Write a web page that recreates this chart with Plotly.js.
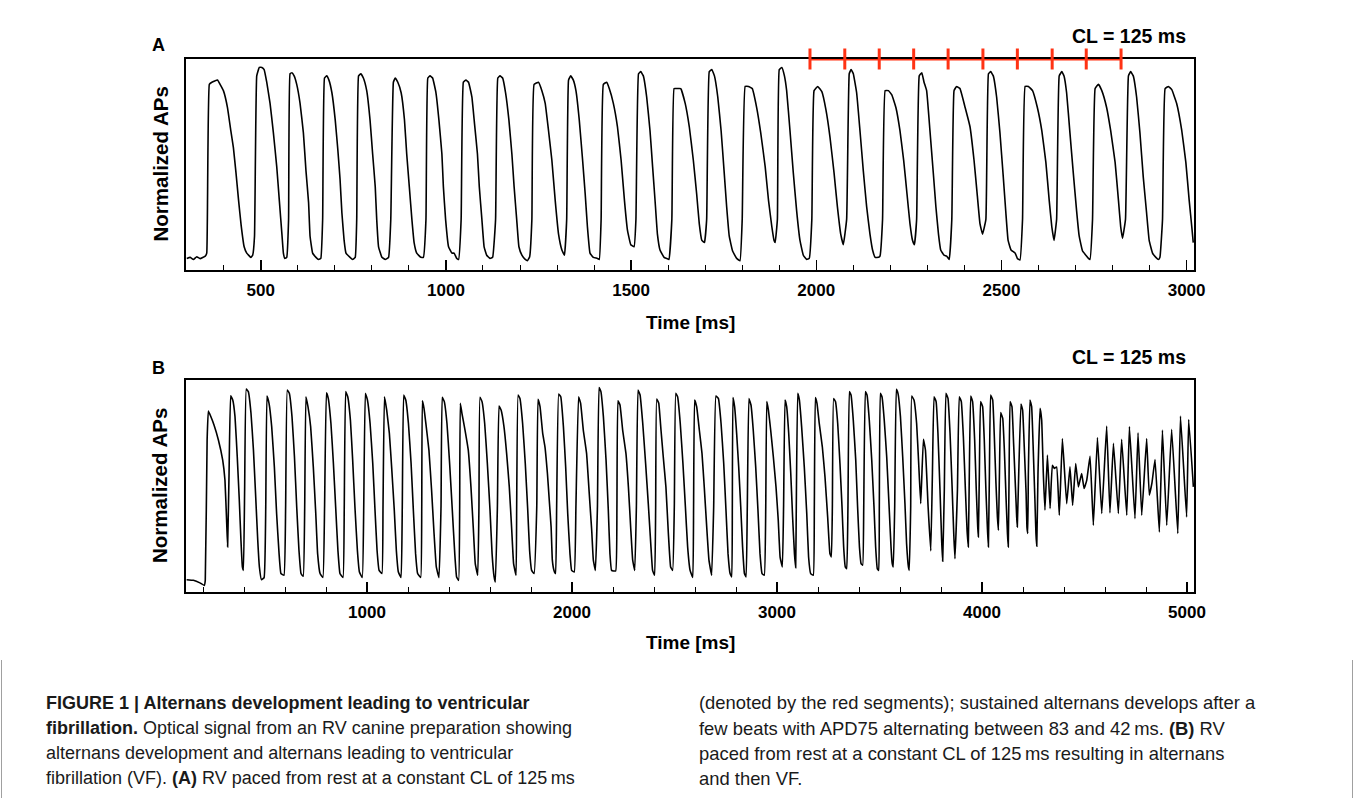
<!DOCTYPE html>
<html>
<head>
<meta charset="utf-8">
<script src="https://cdn.plot.ly/plotly-3.0.1.min.js"></script>
<style>
html,body{margin:0;padding:0;background:#fff;}
#chart{width:1354px;height:798px;}
</style>
</head>
<body>
<div id="chart"></div>
<script>
// ---------- DATA ----------
// Panel A: time [ms], normalized AP [% of trace box height]
const apA = [
[300,5.5],[309,6],[318,5],[327,6.3],[336,5.4],[350,6.6],
[354,8],[361,88],[368,89],[383,90],[390,88],[399,85],[410,77],[419,66],[426,58],[433,46],[440,33],[447,21],[455,11],[462,8],[473,6],[478,7],
[483,16],[489,92],[496,96],[503,96],[509,95],[516,89],[525,79],[534,65],[543,49],[550,33],[557,17],[561,8],[565,5.5],[570,6],
[575,24],[579,93],[584,93.5],[590,92],[597,88],[606,79],[615,65],[622,47],[629,32],[633,16],[640,8],[649,6],[656,5],[662,5.5],
[667,24],[672,91],[678,92],[684,90],[692,84],[701,71],[708,57],[714,43],[719,27],[725,14],[730,8],[741,6],[748,5],[755,6],
[759,24],[764,92],[770,93],[777,91],[786,85],[795,71],[802,55],[809,39.5],[813,24],[818,11],[827,6],[836,5],[845,6],
[851,24],[858,89],[863,91],[870,89],[879,84],[888,71],[894,55],[901,39.5],[908,24],[914,13],[921,8],[932,6],[939,6],
[946,24],[951,91],[957,92],[964,91],[973,84],[981,71],[989,55],[993,39.5],[999,24],[1007,11],[1016,8],[1022,8],[1029,5.5],[1034,5],
[1041,24],[1047,89],[1054,90],[1061,89],[1070,82],[1077,69.5],[1085,55],[1090,39.5],[1097,24],[1103,11],[1110,7],[1119,5.5],[1126,6],
[1134,24],[1140,91],[1146,92],[1153,91],[1161,84],[1170,71],[1178,55],[1184,39.5],[1191,24],[1197,11],[1205,7],[1214,5],[1220,4.4],[1226,6.3],
[1232,24],[1238,88],[1250,89],[1259,85],[1268,79],[1277,66],[1286,52],[1295,33],[1304,17],[1313,9.5],[1320,7],
[1326,24],[1331,90],[1337,92],[1344,90],[1351,85],[1360,71],[1369,52],[1376,36],[1382,20.5],[1389,8],[1398,6],[1409,5.5],[1414,5],
[1419,24],[1425,88],[1434,89],[1441,86],[1452,79],[1463,68],[1473,52],[1482,33],[1490,19],[1499,12],[1508,11],
[1513,24],[1520,93],[1526,94],[1533,92],[1542,82],[1551,66],[1558,49],[1565,32],[1571,17],[1578,9.5],[1589,6],[1596,5.5],[1602,5],
[1610,24],[1616,86],[1623,86],[1634,86],[1646,79],[1657,68],[1668,52],[1677,36],[1684,22],[1691,14],[1698,13],
[1704,24],[1711,94],[1718,95],[1725,92],[1734,82],[1743,66],[1751,47],[1758,30],[1765,16],[1774,9],[1785,5.5],[1794,4.4],
[1800,24],[1808,87],[1817,87],[1827,86],[1839,77],[1850,65],[1862,49],[1871,33],[1880,20.5],[1886,14],[1889,13],
[1895,24],[1900,95],[1907,96],[1914,92],[1920,85],[1929,66],[1938,46],[1947,28],[1956,14],[1965,7],[1974,5],[1981,5.5],
[1988,24],[1994,85],[2004,87],[2015,84.5],[2026,76],[2037,63],[2048,46],[2057,30],[2066,17],[2073,12],
[2082,24],[2089,93],[2094,95],[2100,93],[2109,84],[2118,66],[2127,47],[2136,30],[2145,17],[2152,9.5],[2159,6],[2168,6],[2172,6.6],
[2179,24],[2186,85],[2195,85],[2204,83],[2215,77],[2226,66],[2236,52],[2245,36],[2253,22],[2260,14],[2265,12],
[2271,24],[2278,92],[2285,93.5],[2291,89],[2298,85],[2307,66],[2316,46],[2323,30],[2330,17],[2336,9.5],[2345,7],[2352,6.6],[2359,5],
[2366,24],[2372,85],[2379,87],[2388,86],[2402,77],[2415,68],[2426,52],[2435,35],[2442,22],[2449,17],
[2458,24],[2465,93],[2471,94],[2478,92],[2487,82],[2496,65],[2505,44],[2512,27],[2518,14],[2526,9.5],[2537,8],[2543,5.5],[2550,4.7],
[2557,24],[2564,87],[2573,87],[2584,85],[2597,77],[2609,66],[2620,51],[2629,33],[2636,20.5],[2642,14],
[2649,24],[2656,92],[2663,94],[2669,92],[2676,84],[2685,65],[2694,46],[2703,28],[2710,16],[2719,9],[2728,7],[2735,5.5],[2739,5],
[2746,24],[2753,86],[2762,88],[2771,85],[2784,77],[2795,66],[2807,51],[2816,33],[2822,20.5],[2827,15],
[2835,24],[2843,92],[2849,94],[2856,92],[2865,82],[2874,65],[2883,44],[2892,27],[2899,14],[2908,8],[2917,6],[2924,5],[2928,6],
[2935,24],[2942,86],[2951,87],[2960,85.5],[2973,79],[2987,66],[2998,51],[3007,33],[3014,20.5],[3018,13]
];

// Panel B: time [ms], normalized AP [% of trace box height]
const apB = [
[120,5.8],[153,5.5],[185,4.3],[206,3.1],
[211,5.5],[220,71.7],[226,85.4],[237,83],[254,78.7],[275,71.7],[296,62.2],[307,52.8],[315,33.9],[320,21.3],
[327,55.9],[335,92.6],[345,90.6],[356,82.7],[367,63.8],[377,43.3],[385,24.4],[392,11.8],[397,10.2],
[403,48],[411,95.7],[421,94.5],[434,84.3],[446,66.9],[457,44.9],[467,24.4],[475,11.8],[485,5.8],[498,6.8],
[506,40.2],[512,92.4],[522,89],[535,78],[548,59],[559,37],[571,18.1],[580,8.7],[595,7.9],
[603,40.2],[611,95.3],[621,93.7],[634,82.7],[646,63.8],[657,40.2],[668,19.7],[678,8.7],[689,7.4],
[696,40.2],[702,92.1],[712,87.4],[725,78],[738,59],[750,37],[759,18.1],[771,8.7],[785,6.8],
[793,40.2],[802,94],[811,91.3],[824,79.5],[836,60.6],[847,40.2],[858,19.7],[868,8.7],[883,6.8],
[889,40.2],[896,94.5],[906,92.1],[919,81.1],[930,62.2],[941,40.2],[953,19.7],[963,9.4],[977,6.8],
[984,40.2],[992,93.7],[1002,90.6],[1015,79.5],[1028,60.6],[1039,38.6],[1049,19.7],[1059,10.2],[1073,8.7],
[1078,40.2],[1085,92.1],[1096,85.8],[1109,74.8],[1120,59],[1133,38.6],[1143,19.7],[1153,9.4],[1166,6.8],
[1172,40.2],[1179,92.9],[1189,90.6],[1202,79.5],[1215,60.6],[1226,38.6],[1237,18.1],[1247,8.7],[1262,6.8],
[1267,40.2],[1270,90.2],[1278,86.6],[1288,78.7],[1302,66.9],[1315,48],[1327,27.6],[1338,11.8],[1351,6.8],
[1361,40.2],[1367,91.8],[1377,89.8],[1390,79.5],[1403,60.6],[1416,38.6],[1428,18.1],[1437,7.1],[1447,5.5],
[1452,40.2],[1455,89],[1463,84.3],[1478,76.4],[1494,66.9],[1507,49.6],[1519,29.1],[1528,13.4],[1540,7.9],
[1546,40.2],[1551,91.8],[1561,89.8],[1574,79.5],[1587,60.6],[1600,38.6],[1610,18.1],[1620,7.1],[1626,4.7],
[1636,40.2],[1644,87.7],[1654,85.8],[1668,78],[1681,65.4],[1694,49.6],[1706,29.1],[1715,13.4],[1727,7.9],
[1730,40.2],[1737,92.9],[1746,91.3],[1759,79.5],[1772,60.6],[1784,38.6],[1793,19.7],[1803,10.2],[1815,8.7],
[1828,40.2],[1834,90.9],[1844,87.4],[1857,74.8],[1868,68.5],[1880,55.9],[1889,43.3],[1898,30.7],[1904,15],[1912,10.2],[1920,8.7],
[1925,40.2],[1935,93.4],[1945,92.1],[1958,78],[1969,59],[1979,37],[1990,18.1],[1998,10.2],[2011,9.4],
[2019,40.2],[2032,92.1],[2042,89],[2055,76.4],[2071,65.4],[2084,46.5],[2096,29.1],[2104,15],[2114,10.2],
[2124,40.2],[2132,96.4],[2141,94.5],[2153,82.7],[2166,62.2],[2177,38.6],[2185,18.1],[2193,10.2],[2213,9.9],
[2219,40.2],[2224,90.2],[2234,88.2],[2247,76.4],[2263,65.4],[2275,49.6],[2286,30.7],[2296,15],[2306,10.2],
[2314,40.2],[2322,95.3],[2332,92.9],[2345,79.5],[2359,60.6],[2372,41.7],[2385,21.3],[2393,10.2],[2403,7.9],
[2408,40.2],[2413,91],[2423,89],[2434,76.4],[2445,63.8],[2458,49.6],[2470,27.6],[2481,11.8],[2491,10.2],
[2499,40.2],[2506,93.7],[2515,92.1],[2528,79.5],[2541,60.6],[2553,40.2],[2564,21.3],[2576,10.2],[2589,6.8],
[2593,40.2],[2598,90.6],[2608,87.4],[2621,76.4],[2634,65.4],[2645,49.6],[2657,30.7],[2668,15],[2681,7.9],
[2691,40.2],[2702,92.4],[2714,91.3],[2727,79.5],[2740,60.6],[2751,38.6],[2761,18.1],[2771,8.7],[2779,7.1],
[2782,40.2],[2785,91.7],[2793,87.4],[2803,74.8],[2813,59],[2823,40.2],[2832,21.3],[2841,8.7],[2849,7.1],
[2855,40.2],[2863,91.3],[2873,88.2],[2884,76.4],[2896,59],[2907,38.6],[2917,18.1],[2927,8.7],[2938,7.9],
[2945,40.2],[2950,89.8],[2958,85.8],[2969,76.4],[2982,63.8],[2995,49.6],[3006,33.9],[3015,16.5],[3026,11.8],
[3032,40.2],[3039,90.6],[3047,87.4],[3057,74.8],[3067,55.9],[3076,35.4],[3085,18.1],[3091,11.5],
[3094,40.2],[3101,93.7],[3109,90.6],[3120,78],[3133,59],[3145,37],[3154,16.5],[3164,8.7],[3177,7.9],
[3182,40.2],[3187,91.7],[3195,89],[3206,79.5],[3221,68.5],[3234,54.3],[3247,35.4],[3258,18.1],[3265,16.5],
[3270,40.2],[3276,91.3],[3285,89.8],[3296,79.5],[3307,60.6],[3317,40.2],[3325,21.3],[3333,11.8],[3340,11],
[3346,40.2],[3353,94.5],[3361,92.9],[3372,81.1],[3384,62.2],[3393,40.2],[3402,21.3],[3410,13.4],[3418,12.6],
[3423,40.2],[3431,94.5],[3439,92.9],[3450,81.1],[3462,62.2],[3473,40.2],[3481,21.3],[3489,11],[3496,10.2],
[3499,40.2],[3504,93.7],[3512,92.1],[3523,81.1],[3535,63.8],[3546,41.7],[3556,21.3],[3562,13.4],[3567,11.8],
[3574,40.2],[3582,95.6],[3590,93.7],[3602,82.7],[3613,63.8],[3624,41.7],[3632,22.8],[3641,11.8],[3645,10.2],
[3652,40.2],[3657,92.4],[3668,90.6],[3681,79.5],[3691,60.6],[3701,41.7],
[3714,72],[3724,66.9],[3737,40.2],[3750,19.4],
[3758,55.9],[3766,92.1],[3776,89.8],[3785,74.8],[3795,48],[3803,24.4],[3808,14.5],
[3816,48],[3824,93.7],[3834,91.3],[3844,74.8],[3854,49.6],[3862,27.6],[3868,15.7],
[3880,48],[3889,92.1],[3899,89.8],[3909,73.2],[3919,48],[3927,29.1],[3933,21.3],
[3938,55.9],[3945,92.4],[3954,89.8],[3964,71.7],[3972,48],[3979,30.7],[3982,26],
[3987,55.9],[3993,89.8],[4003,87.4],[4011,71.7],[4019,48],[4026,30.7],[4031,21.3],
[4036,55.9],[4042,92.9],[4052,90.6],[4060,73.2],[4068,51.2],[4075,35.4],[4080,29.1],
[4085,55.9],[4091,84.6],[4101,81.9],[4109,66.9],[4117,44.9],[4124,27.6],[4128,21.3],
[4132,55.9],[4137,89.8],[4146,87.4],[4154,70.1],[4163,49.6],[4169,35.4],[4172,30.7],
[4179,55.9],[4190,88.7],[4198,85.8],[4206,68.5],[4215,46.5],[4219,30.7],[4223,27.6],
[4226,55.9],[4234,90.6],[4242,87.4],[4250,66.9],[4258,43.3],[4263,27.6],[4267,21.6],
[4273,55.9],[4283,86.6],[4291,81.1],[4299,55.9],[4307,38.6],
[4319,64.6],[4332,39.4],[4343,59.8],[4353,58.3],[4364,59],[4377,36.2],[4392,72.4],[4413,41.7],[4429,59],[4442,40.9],
[4457,60.6],[4470,49.6],[4486,55.9],[4498,48.8],[4511,52.8],[4527,64.1],[4543,31.5],[4563,72.9],[4584,37],[4608,78.3],
[4624,37.3],[4641,70.1],[4665,37],[4681,72],[4706,36.2],[4719,78],[4746,34.6],[4761,75.1],[4779,36.2],[4803,72.4],
[4816,45.7],[4829,51.5],[4844,62.5],[4865,28.3],[4880,76.4],[4901,31.5],[4925,76.7],[4955,27.6],[4968,83],[4998,35.4],
[5008,81.4],[5031,49.6]
];

// red segment boundaries in panel A [ms]
const redTicks = [1983, 2077, 2170, 2263, 2356, 2450, 2543, 2637, 2729, 2823];
const redLevel = 100;   // drawn along the top edge of panel A

const tickValsA = [500, 1000, 1500, 2000, 2500, 3000];
const tickValsB = [1000, 2000, 3000, 4000, 5000];
const rangeA = [298, 3020];
const rangeB = [117, 5034];

const captionLeft = [
  "<b>FIGURE 1 | Alternans development leading to ventricular</b>",
  "<b>fibrillation.</b> Optical signal from an RV canine preparation showing",
  "alternans development and alternans leading to ventricular",
  "fibrillation (VF). <b>(A)</b> RV paced from rest at a constant CL of 125\u2009ms"
];
const captionRight = [
  "(denoted by the red segments); sustained alternans develops after a",
  "few beats with APD75 alternating between 83 and 42\u2009ms. <b>(B)</b> RV",
  "paced from rest at a constant CL of 125\u2009ms resulting in alternans",
  "and then VF."
];

// ---------- LAYOUT HELPERS (pixel placement) ----------
const PL = 186, PR = 1194, PT = 59, PB = 592;
const px2x = p => (p - PL) / (PR - PL);
const py2y = p => (PB - p) / (PB - PT);
const FONT = "Liberation Sans, Arial, Helvetica, sans-serif";
const CAPFONT = "Liberation Sans Narrow, Arial Narrow, Liberation Sans, Arial, sans-serif";

const traces = [
  {x: apA.map(d => d[0]), y: apA.map(d => d[1]), xaxis: 'x', yaxis: 'y', type: 'scatter', mode: 'lines',
   line: {color: '#000', width: 1.6, shape: 'spline', smoothing: 0.3}, hoverinfo: 'skip'},
  {x: apB.map(d => d[0]), y: apB.map(d => d[1]), xaxis: 'x2', yaxis: 'y2', type: 'scatter', mode: 'lines',
   line: {color: '#000', width: 1.6, shape: 'spline', smoothing: 0.3}, hoverinfo: 'skip'},
  {x: redTicks, y: redTicks.map(() => redLevel), xaxis: 'x', yaxis: 'y', type: 'scatter', mode: 'lines+markers',
   line: {color: '#ff3214', width: 3},
   marker: {symbol: 'line-ns', size: 15, color: '#ff3214', line: {color: '#ff3214', width: 3}},
   cliponaxis: false, hoverinfo: 'skip'}
];

function xax(range, tv, minorStep, anchor) {
  return {
    range: range, anchor: anchor, domain: [0, 1],
    showline: true, linewidth: 2, linecolor: '#000', mirror: true,
    ticks: 'inside', ticklen: 10, tickwidth: 1.5, tickcolor: '#000',
    tickmode: 'array', tickvals: tv,
    tickfont: {family: FONT, size: 17, color: '#000', weight: 'bold'},
    ticklabelstandoff: 4,
    minor: {ticks: 'inside', ticklen: 5, tickwidth: 1, tickcolor: '#000', dtick: minorStep, tick0: 0, showgrid: false},
    showgrid: false, zeroline: false, fixedrange: true, layer: 'below traces'
  };
}
function yax(domain, anchor) {
  return {
    range: [0, 100], domain: domain, anchor: anchor,
    showline: true, linewidth: 2, linecolor: '#000', mirror: true,
    ticks: '', showticklabels: false, showgrid: false, zeroline: false, fixedrange: true, layer: 'below traces'
  };
}

const ann = [];
function txt(text, px, py, opts) {
  ann.push(Object.assign({
    text: text, xref: 'paper', yref: 'paper', x: px2x(px), y: py2y(py),
    showarrow: false, xanchor: 'center', yanchor: 'middle',
    font: {family: FONT, size: 18, color: '#000', weight: 'bold'}
  }, opts || {}));
}
txt('A', 158, 45, {font: {family: FONT, size: 18, color: '#000', weight: 'bold'}});
txt('B', 158, 368, {font: {family: FONT, size: 18, color: '#000', weight: 'bold'}});
txt('CL = 125 ms', 1188, 36, {xanchor: 'right', font: {family: FONT, size: 19.5, color: '#000', weight: 'bold'}});
txt('CL = 125 ms', 1188, 357, {xanchor: 'right', font: {family: FONT, size: 19.5, color: '#000', weight: 'bold'}});
txt('Normalized APs', 160, (PT + 270) / 2, {textangle: -90, font: {family: FONT, size: 20.5, color: '#000', weight: 'bold'}});
txt('Normalized APs', 160, (380 + PB) / 2, {textangle: -90, font: {family: FONT, size: 20.5, color: '#000', weight: 'bold'}});
txt('Time [ms]', 690, 322, {font: {family: FONT, size: 19, color: '#000', weight: 'bold'}});
txt('Time [ms]', 690, 642, {font: {family: FONT, size: 19, color: '#000', weight: 'bold'}});
const capY = [703, 728, 753, 778];
captionLeft.forEach((s, i) => txt(s, 44, capY[i], {xanchor: 'left', font: {family: CAPFONT, size: 18, color: '#1a1a1a', weight: 'normal'}}));
captionRight.forEach((s, i) => txt(s, 697, capY[i], {xanchor: 'left', font: {family: CAPFONT, size: 18.4, color: '#1a1a1a', weight: 'normal'}}));

// thin page frame at the left and right edges of the caption area
const frame = [1.5, 1352.5].map(p => ({
  type: 'line', xref: 'paper', yref: 'paper', x0: px2x(p), x1: px2x(p), y0: py2y(660), y1: py2y(798),
  line: {color: '#a0a0a0', width: 1}
}));

const layout = {
  width: 1354, height: 798,
  margin: {l: PL, r: 1354 - PR, t: PT, b: 798 - PB, pad: 0},
  paper_bgcolor: '#fff', plot_bgcolor: '#fff',
  showlegend: false,
  xaxis: xax(rangeA, tickValsA, 100, 'y'),
  yaxis: yax([py2y(270), 1], 'x'),
  xaxis2: xax(rangeB, tickValsB, 200, 'y2'),
  yaxis2: yax([0, py2y(380)], 'x2'),
  annotations: ann,
  shapes: frame
};

Plotly.newPlot('chart', traces, layout, {staticPlot: true, displayModeBar: false});
</script>
</body>
</html>
